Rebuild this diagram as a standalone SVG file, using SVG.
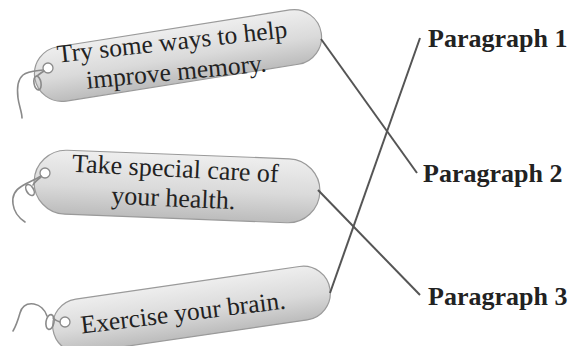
<svg xmlns="http://www.w3.org/2000/svg" width="571" height="346" viewBox="0 0 571 346">
<defs>
<linearGradient id="tagfill" x1="0" y1="0" x2="0" y2="1">
<stop offset="0" stop-color="#eeeeee"/>
<stop offset="0.55" stop-color="#dadada"/>
<stop offset="1" stop-color="#bcbcbc"/>
</linearGradient>
<style>
.tag{fill:url(#tagfill);stroke:#9a9a9a;stroke-width:1.2}
.hole{fill:#ffffff;stroke:#8a8a8a;stroke-width:1.3}
.string{fill:none;stroke:#8a8a8a;stroke-width:1.6;stroke-linecap:round}
.tt{font-family:"Liberation Serif","Times New Roman",serif;font-size:25.5px;fill:#222;text-anchor:middle}
.lbl{font-family:"Liberation Serif","Times New Roman",serif;font-size:26px;font-weight:bold;fill:#222}
.conn{stroke:#555;stroke-width:2;fill:none}
</style>
</defs>
<rect width="571" height="346" fill="#ffffff"/>

<g id="tag1">
<rect class="tag" transform="translate(178,55.5) rotate(-9)" x="-145" y="-27.5" width="290" height="55" rx="27.5"/>
<text class="tt" x="173" y="50" transform="rotate(-6.3 173 50)">Try some ways to help</text>
<text class="tt" x="177" y="80" transform="rotate(-5.5 177 80)">improve memory.</text>
<circle class="hole" cx="48" cy="68" r="5"/>
<path class="string" d="M43,70 C36,71 28,71 23,75 C17,80 17,90 18,98 C19,106 22,112 22,118"/>
<ellipse class="string" cx="37.5" cy="83" rx="3.5" ry="7" transform="rotate(-10 37.5 83)"/>
<path class="string" d="M44,71 C41,73 38,75 37,76"/>
</g>

<g id="tag2">
<rect class="tag" transform="translate(177,186.5) rotate(2.2)" x="-143" y="-32" width="286" height="64" rx="32"/>
<text class="tt" style="font-size:26px" x="175" y="177" transform="rotate(2.9 175 177)">Take special care of</text>
<text class="tt" style="font-size:26px" x="173" y="206.5" transform="rotate(2.5 173 206.5)">your health.</text>
<circle class="hole" cx="45" cy="173" r="5"/>
<path class="string" d="M41,176 C35,180 28,182 22,186 C15,190 12,197 13,204 C14,212 19,218 25,222"/>
<ellipse class="string" cx="30" cy="190" rx="3.5" ry="6" transform="rotate(-30 30 190)"/>
<path class="string" d="M41,177 C37,180 34,183 33,185"/>
</g>

<g id="tag3">
<rect class="tag" transform="translate(191.5,309.5) rotate(-8.3)" x="-140" y="-27" width="280" height="54" rx="27"/>
<text class="tt" x="184" y="321" transform="rotate(-7 184 321)">Exercise your brain.</text>
<circle class="hole" cx="65" cy="322" r="5"/>
<ellipse class="string" cx="50" cy="322" rx="4" ry="7.5" transform="rotate(10 50 322)"/>
<path class="string" d="M60,322 C57,321 55,320 53,318"/>
<path class="string" d="M47,316 C45,310 40,305 34,304 C27,303 22,306 20,313 C18,320 16,326 13,331"/>
</g>

<g id="connectors">
<line class="conn" x1="321" y1="39" x2="417" y2="173"/>
<line class="conn" x1="318" y1="190" x2="420" y2="295"/>
<line class="conn" x1="330" y1="293" x2="420" y2="38"/>
</g>

<g id="p1"><text class="lbl" x="428" y="47">Paragraph 1</text></g>
<g id="p2"><text class="lbl" x="423" y="182">Paragraph 2</text></g>
<g id="p3"><text class="lbl" x="428" y="305">Paragraph 3</text></g>
</svg>
